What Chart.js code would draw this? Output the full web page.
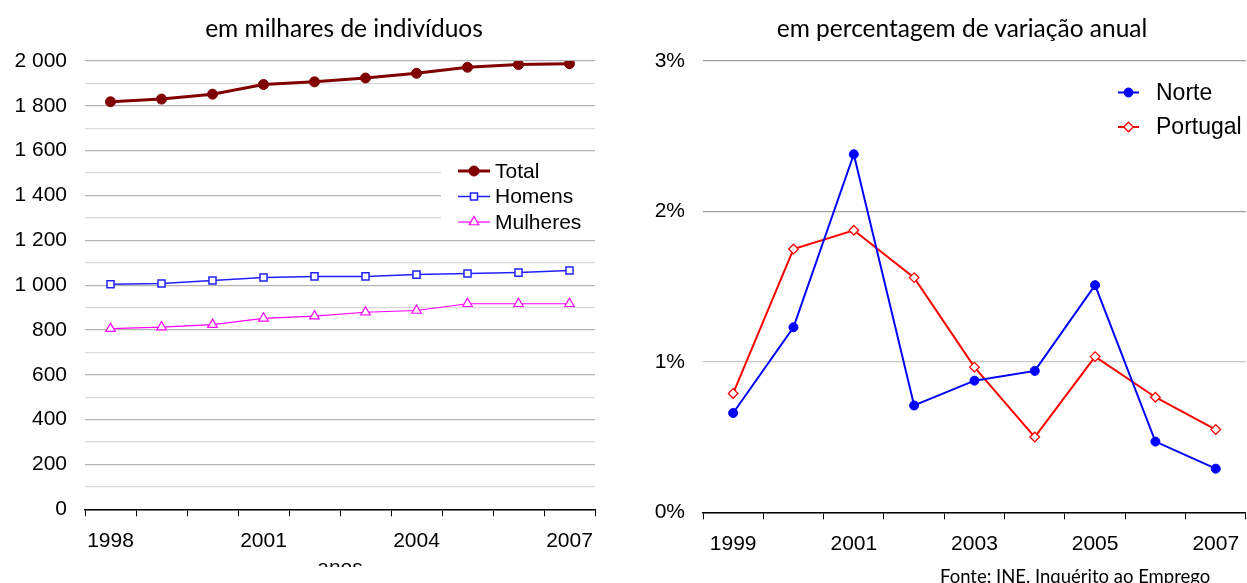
<!DOCTYPE html>
<html><head><meta charset="utf-8">
<script src="https://cdn.jsdelivr.net/npm/chart.js@4"></script>
<style>
html,body{margin:0;padding:0;background:#fff;width:1247px;height:583px;overflow:hidden;position:relative}
#lwrap{position:absolute;left:0;top:0;width:620px;height:567px;overflow:hidden}
#rwrap{position:absolute;left:630px;top:0;width:617px;height:583px;overflow:hidden}
.title{position:absolute;font-family:Lato,sans-serif;font-size:24.5px;line-height:29px;color:#000;white-space:nowrap;transform:translateX(-50%)}
#src{position:absolute;left:940px;top:565px;font-family:Lato,sans-serif;font-size:18.5px;line-height:22px;color:#000;white-space:nowrap}
canvas{display:block}
</style>
</head><body>
<div id="lwrap"><canvas id="c1" width="620" height="600"></canvas></div>
<div id="rwrap"><canvas id="c2" width="622" height="583"></canvas></div>
<div class="title" style="left:344px;top:13px">em milhares de indivíduos</div>
<div class="title" style="left:962px;top:13px">em percentagem de variação anual</div>
<div id="src">Fonte: INE, Inquérito ao Emprego</div>
<script>
// ---- data ----
const yearsLeft = ['1998','1999','2000','2001','2002','2003','2004','2005','2006','2007'];
const total    = [1818, 1830, 1852, 1895, 1907, 1924, 1945, 1972, 1984, 1988];
const homens   = [1004, 1007, 1021, 1034, 1039, 1039, 1047, 1052, 1056, 1065];
const mulheres = [806, 813, 824, 852, 862, 879, 887, 917, 917, 917];

const yearsRight = ['1999','2000','2001','2002','2003','2004','2005','2006','2007'];
const norte    = [0.66, 1.23, 2.38, 0.71, 0.875, 0.94, 1.51, 0.47, 0.29];
const portugal = [0.79, 1.75, 1.875, 1.56, 0.965, 0.50, 1.035, 0.765, 0.55];

const TICK_FONT = {family:'Liberation Sans, Arial, sans-serif', size:21};

function fmtThousands(v){
  if (v >= 1000){ const t = Math.floor(v/1000); const r = String(v%1000).padStart(3,'0'); return t+' '+r; }
  return String(v);
}

const legendPlugin = {
  id:'customLegend',
  afterDatasetsDraw(chart, args, opts){
    if (!opts || !opts.items) return;
    const ctx = chart.ctx;
    ctx.save();
    if (opts.box){ ctx.fillStyle = '#fff'; ctx.fillRect(opts.box[0], opts.box[1], opts.box[2], opts.box[3]); }
    chart.data.datasets.forEach((ds, i) => {
      const y = opts.y + i*opts.row;
      ctx.beginPath();
      ctx.strokeStyle = ds.borderColor;
      ctx.lineWidth = ds.borderWidth;
      ctx.moveTo(opts.x1, y); ctx.lineTo(opts.x2, y); ctx.stroke();
      ctx.fillStyle = ds.pointBackgroundColor;
      ctx.strokeStyle = ds.pointBorderColor;
      ctx.lineWidth = ds.pointBorderWidth;
      Chart.helpers.drawPoint(ctx, {pointStyle: ds.pointStyle, radius: ds.pointRadius, borderWidth: ds.pointBorderWidth, rotation: 0}, (opts.x1+opts.x2)/2, y);
      ctx.fillStyle = '#000';
      ctx.font = opts.font;
      ctx.textBaseline = 'middle';
      ctx.textAlign = 'left';
      ctx.fillText(ds.label, opts.tx, y+1);
    });
    ctx.restore();
  }
};

new Chart(document.getElementById('c1'), {
  type:'line',
  data:{ labels: yearsLeft, datasets:[
    {label:'Total', data: total, borderColor:'#800000', backgroundColor:'#800000', borderWidth:3,
     pointStyle:'circle', pointRadius:5, pointBackgroundColor:'#800000', pointBorderColor:'#800000', pointBorderWidth:1},
    {label:'Homens', data: homens, borderColor:'#2020ff', backgroundColor:'#fff', borderWidth:1.5,
     pointStyle:'rect', pointRadius:5, pointBackgroundColor:'#fff', pointBorderColor:'#2020ff', pointBorderWidth:1.5},
    {label:'Mulheres', data: mulheres, borderColor:'#ff00ff', backgroundColor:'#fff', borderWidth:1.2,
     pointStyle:'triangle', pointRadius:5.5, pointBackgroundColor:'#fff', pointBorderColor:'#ff00ff', pointBorderWidth:1.2}
  ]},
  options:{
    responsive:false, animation:false, devicePixelRatio:1,
    layout:{padding:{top:61, right:25, left:0, bottom:0}},
    plugins:{
      legend:{display:false}, tooltip:{enabled:false},
      customLegend:{items:true, box:[441,152,156,84], x1:458, x2:490, tx:495, y:171, row:25.5, font:'21px "Liberation Sans", Arial, sans-serif'}
    },
    scales:{
      x:{
        offset:true,
        grid:{offset:true, drawOnChartArea:false, color:'#000', tickLength:7, lineWidth:1},
        border:{display:true, color:'#000', width:1.5},
        ticks:{autoSkip:false, maxRotation:0, padding:12, color:'#000', font:TICK_FONT,
               callback:(v,i)=> i%3===0 ? yearsLeft[i] : ''},
        title:{display:true, text:'anos', color:'#000', font:TICK_FONT, padding:{top:0,bottom:19}},
        afterFit:s=>{ s.height = 90.7; }
      },
      y:{
        min:0, max:2000,
        border:{display:false},
        grid:{drawTicks:false, lineWidth:1.3, color: c => (c.tick && c.tick.value%200===0) ? '#b3b3b3' : '#dadada'},
        ticks:{stepSize:100, autoSkip:false, padding:18, color:'#000', font:TICK_FONT,
               callback: v => v%200===0 ? fmtThousands(v) : ''},
        afterFit:s=>{ s.width = 85; }
      }
    }
  },
  plugins:[legendPlugin]
});

new Chart(document.getElementById('c2'), {
  type:'line',
  data:{ labels: yearsRight, datasets:[
    {label:'Norte', data: norte, borderColor:'#0000ff', backgroundColor:'#0000ff', borderWidth:2,
     pointStyle:'circle', pointRadius:4.5, pointBackgroundColor:'#0000ff', pointBorderColor:'#0000ff', pointBorderWidth:1},
    {label:'Portugal', data: portugal, borderColor:'#ff0000', backgroundColor:'#fff', borderWidth:2,
     pointStyle:'rectRot', pointRadius:4.8, pointBackgroundColor:'#fff', pointBorderColor:'#ff0000', pointBorderWidth:1.3}
  ]},
  options:{
    responsive:false, animation:false, devicePixelRatio:1,
    layout:{padding:{top:61, right:1, left:0, bottom:0}},
    plugins:{
      legend:{display:false}, tooltip:{enabled:false},
      customLegend:{items:true, x1:488, x2:509, tx:526, y:92.5, row:34.5, font:'23px "Liberation Sans", Arial, sans-serif'}
    },
    scales:{
      x:{
        offset:true,
        grid:{offset:true, drawOnChartArea:false, color:'#000', tickLength:7, lineWidth:1},
        border:{display:true, color:'#000', width:1.5},
        ticks:{autoSkip:false, maxRotation:0, padding:12, color:'#000', font:TICK_FONT,
               callback:(v,i)=> i%2===0 ? yearsRight[i] : ''},
        afterFit:s=>{ s.height = 70.7; }
      },
      y:{
        min:0, max:3,
        border:{display:false},
        grid:{drawTicks:false, lineWidth:1.3, color: c => (c.tick && c.tick.value===1) ? '#c6c6c6' : '#9e9e9e'},
        ticks:{stepSize:1, padding:18, color:'#000', font:TICK_FONT, callback: v => v+'%'},
        afterFit:s=>{ s.width = 73; }
      }
    }
  },
  plugins:[legendPlugin]
});
</script>
</body></html>
